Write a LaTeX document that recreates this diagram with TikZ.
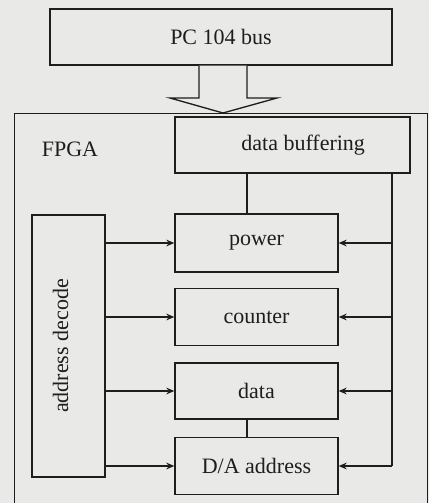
\documentclass[tikz,border=0pt]{standalone}
\usepackage{fontspec}
\setmainfont{Liberation Serif}
\usetikzlibrary{arrows.meta}
\definecolor{bg}{RGB}{233,233,231}
\definecolor{ink}{RGB}{30,30,30}
\tikzset{
  box/.style={draw=ink, line width=1pt, fill=bg, inner sep=0pt, text=ink,
              font=\fontsize{16.5}{19}\selectfont},
  lbl/.style={text=ink, inner sep=0pt, font=\fontsize{16.5}{19}\selectfont},
  conn/.style={draw=ink, line width=1pt},
  arr/.style={conn, -{Stealth[length=6pt,width=5pt]}},
}
\begin{document}
\begin{tikzpicture}[x=0.75pt,y=-0.75pt]
\fill[bg] (0,0) rectangle (429,503);
\useasboundingbox (0,0) rectangle (429,503);
% FPGA outer box (bottom edge lies below the picture)
\node[box, anchor=north west, minimum width=309.75pt, minimum height=330pt] (fpga) at (14,113) {};
\node[lbl] (fpgalbl) at (70,149) {FPGA};
% boxes
\node[box, minimum width=256.5pt, minimum height=42pt] (pc) at (221,37) {PC 104 bus};
\node[box, minimum width=176.25pt, minimum height=42pt] (buf) at (292.5,145) {\hspace*{16pt}data buffering};
\node[box, minimum width=122.25pt, minimum height=43.5pt] (pow) at (256.5,243) {power};
\node[box, minimum width=122.25pt, minimum height=42.75pt] (cnt) at (256.5,317) {counter};
\node[box, minimum width=122.25pt, minimum height=42pt] (dat) at (256.5,391) {data};
\node[box, minimum width=122.25pt, minimum height=42.75pt] (da) at (256.5,466) {D/A address};
\node[box, minimum width=54.75pt, minimum height=196.5pt] (dec) at (68.5,346) {};
\node[lbl, rotate=90] (declbl) at (dec.center) [yshift=6pt] {address decode};
% hollow bus arrow
\draw[conn, fill=bg, line join=miter] (pc.south -| 199,0) -- (199,98) -- (170,98) -- (fpga.north -| 223,0) -- (277,98) -- (247,98) -- (pc.south -| 247,0);
% internal lines
\coordinate (vx) at (247,0);
\coordinate (bx) at (392,0);
\draw[conn] (buf.south -| vx) -- (pow.north -| vx);
\draw[conn] (dat.south -| vx) -- (da.north -| vx);
\draw[conn] (buf.south -| bx) -- (bx |- da.east);
\foreach \b in {pow,cnt,dat,da}{
  \draw[arr] (dec.east |- \b.west) -- (\b.west);
  \draw[arr] (bx |- \b.east) -- (\b.east);
}
\end{tikzpicture}
\end{document}
